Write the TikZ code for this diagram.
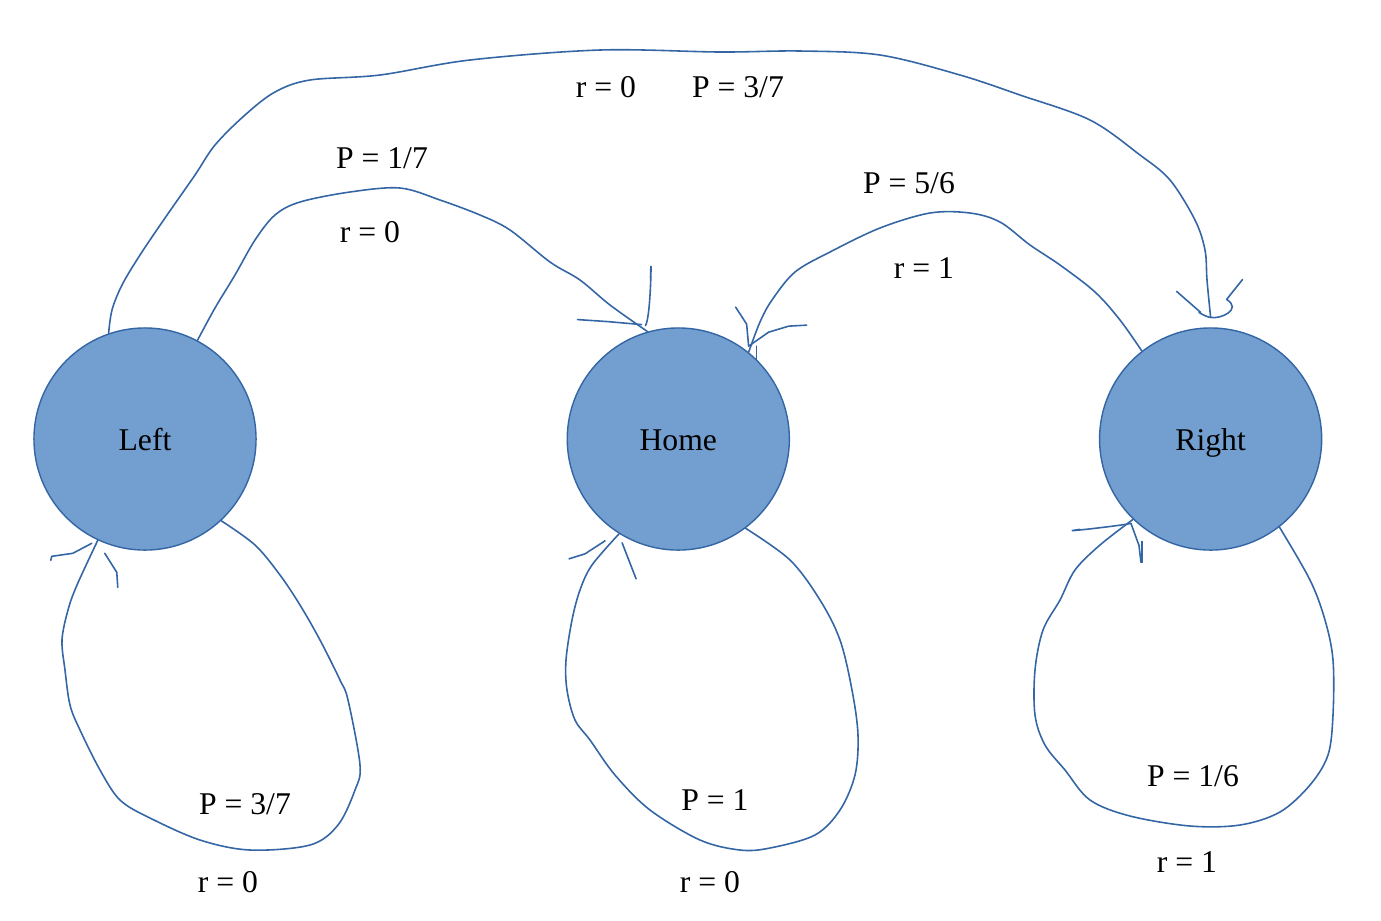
\documentclass[tikz,border=0pt]{standalone}
\usepackage{fontspec}
\setmainfont{Liberation Serif}
\usetikzlibrary{positioning}
\definecolor{fillblue}{HTML}{729FCF}
\definecolor{lineblue}{HTML}{3465A4}
\tikzset{
    state/.style={
    circle,draw=lineblue,fill=fillblue,minimum size=2.22cm,inner sep=0pt,text height=8.6pt,text depth=2pt,font=\fontsize{9}{11}\selectfont
    },
    ink/.style={
    draw=lineblue,line width=0.45pt,line join=round,line cap=round
    },
    lbl/.style={
    font=\fontsize{9}{11}\selectfont
    },
}

\begin{document}
\begin{tikzpicture}[x=0.01cm, y=-0.01cm, on grid]
   \useasboundingbox (0,0) rectangle (1381,920);
   \node[state] (L) at (145,439) {Left};
   \node[state,right=5.33cm of L] (H) {Home};
   \node[state,right=5.32cm of H] (R) {Right};

   % labels
   \node[lbl] (rLR) at (606,87) {r = 0};
   \node[lbl] (pLR) at (738,87) {P = 3/7};
   \node[lbl] (pLH) at (382,158) {P = 1/7};
   \node[lbl] (rLH) at (370,232) {r = 0};
   \node[lbl] (pRH) at (909,183) {P = 5/6};
   \node[lbl] (rRH) at (924,268) {r = 1};
   \node[lbl] (pLL) at (245,804) {P = 3/7};
   \node[lbl] (rLL) at (228,882) {r = 0};
   \node[lbl] (pHH) at (715,800) {P = 1};
   \node[lbl] (rHH) at (710,882) {r = 0};
   \node[lbl] (pRR) at (1193,776) {P = 1/6};
   \node[lbl] (rRR) at (1187,862) {r = 1};

   \coordinate (tR) at ([yshift=2.8pt]R.90);

   % Left -> Right
   \draw[ink] plot[smooth,tension=0.55] coordinates {(L.109) (112,310) (122,285) (140,255) (165,218) (195,175) (215,145) (245,115) (275,92) (310,80) (380,75) (470,60) (600,50) (720,52) (800,51) (880,55) (960,75) (1020,95) (1090,120) (1140,155) (1170,180) (1195,220) (1205,250) (1207,280) (tR)};
   \draw[ink] (tR) +(-34,-26) -- +(-10,-5) .. controls +(-6,-2) and +(-4,0) .. +(0,0);
   \draw[ink] (tR) +(0,0) .. controls +(10,2) and +(16,10) .. +(16,-18) -- +(32,-38);

   % Left -> Home
   \draw[ink] plot[smooth,tension=0.55] coordinates {(L.62) (215,308) (235,275) (255,240) (275,215) (300,202) (350,192) (400,188) (440,200) (480,215) (510,230) (550,262) (580,280) (610,305) (H.106)};
   \draw[ink] (H.106) +(3,-54) .. controls +(1,-40) and +(6,-10) .. +(-2,-6);
   \draw[ink] (H.106) +(-70,-12) -- +(-40,-10) -- +(-6,-7);

   % Right -> Home
   \draw[ink] plot[smooth,tension=0.55] coordinates {(R.128) (1120,320) (1095,292) (1060,265) (1030,245) (1000,222) (970,213) (930,213) (880,228) (830,252) (795,272) (772,300) (760,322) (H.51)};
   \draw[ink] (H.51) +(-13,-45) -- +(-2,-28) -- +(0,-6);
   \draw[ink] (H.51) +(58,-27) -- +(40,-26) -- +(20,-20) -- +(0,-6);
   \draw[ink] (H.51) +(8,-6) -- +(8,7);

   % Left -> Left
   \draw[ink] plot[smooth,tension=0.55] coordinates {(L.-47) (255,545) (280,575) (300,605) (320,640) (340,680) (348,700) (360,765) (355,790) (338,825) (310,845) (250,850) (200,840) (150,818) (120,800) (100,770) (80,730) (70,705) (65,670) (62,640) (68,610) (77,585) (L.-115)};
   \draw[ink] (L.-115) +(-47,20) -- +(-46,16) -- +(-25,13) -- +(-6,3);
   \draw[ink] (L.-115) +(7,13) -- +(19,32) -- +(20,47);

   % Home -> Home
   \draw[ink] plot[smooth,tension=0.55] coordinates {(H.-53) (790,560) (820,600) (840,640) (852,690) (858,735) (855,775) (840,810) (815,835) (770,848) (740,850) (700,840) (650,810) (615,775) (590,740) (575,720) (567,690) (566,660) (572,620) (580,590) (592,565) (H.-122)};
   \draw[ink] (H.-122) +(-50,25) -- +(-34,20) -- +(-14,7);
   \draw[ink] (H.-122) +(3,9) -- +(17,45);

   % Right -> Right
   \draw[ink] plot[smooth,tension=0.55] coordinates {(R.-52) (1310,580) (1325,620) (1333,660) (1333,715) (1328,755) (1310,785) (1280,812) (1240,825) (1190,826) (1130,816) (1090,800) (1065,770) (1045,745) (1035,715) (1035,670) (1043,630) (1060,600) (1075,570) (1100,545) (R.-134)};
   \draw[ink] (R.-134) +(-53,10) .. controls +(-30,4) and +(-15,3) .. +(-2,4);
   \draw[ink] (R.-134) +(-2,4) -- +(6,26) -- +(8,43);
   \draw[ink] (R.-134) +(9,22) -- +(9,43);
\end{tikzpicture}
\end{document}
